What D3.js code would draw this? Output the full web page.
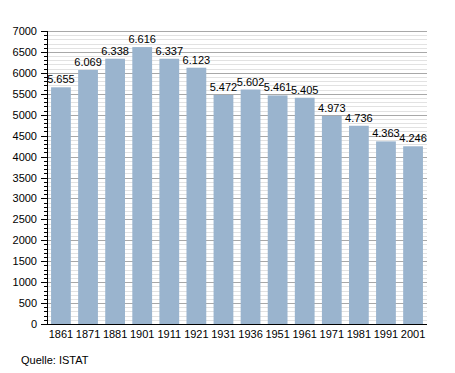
<!DOCTYPE html>
<html>
<head>
<meta charset="utf-8">
<script src="https://cdn.jsdelivr.net/npm/d3@7"></script>
<style>
  body { margin: 0; background: #fff; }
  svg { display: block; font-family: "Liberation Sans", Arial, sans-serif; }
</style>
</head>
<body>
<script>
"use strict";

// data
const years = ['1861', '1871', '1881', '1901', '1911', '1921', '1931', '1936', '1951', '1961', '1971', '1981', '1991', '2001'];
const population = [5655, 6069, 6338, 6616, 6337, 6123, 5472, 5602, 5461, 5405, 4973, 4736, 4363, 4246];
const yTicks = d3.range(0, 7001, 500);
const minorTicks = d3.range(0, 7001, 100);
const source = 'Quelle: ISTAT';

const width = 455, height = 373;
const margin = { left: 47, right: 28, top: 31, bottom: 49 };

const svg = d3.select('body').append('svg')
  .attr('width', width).attr('height', height);

const x = d3.scaleBand()
  .domain(years)
  .range([margin.left, width - margin.right])
  .paddingInner(0.27)
  .paddingOuter(0.15);

const y = d3.scaleLinear()
  .domain([0, 7000])
  .range([height - margin.bottom, margin.top]);

const py = d => Math.round(y(d)) + 0.5;

// grid lines
const grid = svg.append('g');
grid.selectAll('line.minor')
  .data(minorTicks.filter(d => d % 500 !== 0))
  .enter().append('line')
  .attr('x1', margin.left).attr('x2', width - margin.right)
  .attr('y1', py).attr('y2', py)
  .attr('stroke', '#e2e2e2');
grid.selectAll('line.major')
  .data(yTicks.filter(d => d > 0))
  .enter().append('line')
  .attr('x1', margin.left).attr('x2', width - margin.right)
  .attr('y1', py).attr('y2', py)
  .attr('stroke', '#a8a8a8');

// bars
svg.append('g').selectAll('rect')
  .data(population)
  .enter().append('rect')
  .attr('x', (d, i) => x(years[i]))
  .attr('width', x.bandwidth())
  .attr('y', d => y(d))
  .attr('height', d => y(0) - y(d))
  .attr('fill', '#9ab4ce');

// value labels
svg.append('g').selectAll('text')
  .data(population)
  .enter().append('text')
  .attr('x', (d, i) => x(years[i]) + x.bandwidth() / 2)
  .attr('y', d => y(d) - 4)
  .attr('text-anchor', 'middle')
  .attr('font-size', 11)
  .attr('fill', '#000')
  .text(d => d3.format(',')(d).replace(',', '.'));

// y axis
const yAxis = svg.append('g');
yAxis.selectAll('line.minor')
  .data(minorTicks)
  .enter().append('line')
  .attr('x1', margin.left - 3).attr('x2', margin.left)
  .attr('y1', py).attr('y2', py)
  .attr('stroke', '#000');
yAxis.selectAll('line.major')
  .data(yTicks)
  .enter().append('line')
  .attr('x1', margin.left - 6).attr('x2', margin.left)
  .attr('y1', py).attr('y2', py)
  .attr('stroke', '#000');
yAxis.selectAll('text')
  .data(yTicks)
  .enter().append('text')
  .attr('x', margin.left - 10)
  .attr('y', d => y(d) + 4)
  .attr('text-anchor', 'end')
  .attr('font-size', 11)
  .text(d => d);
yAxis.append('line')
  .attr('x1', margin.left + 0.5).attr('x2', margin.left + 0.5)
  .attr('y1', y(7000)).attr('y2', y(0) + 1)
  .attr('stroke', '#000');

// x axis
const xAxis = svg.append('g');
xAxis.append('line')
  .attr('x1', margin.left).attr('x2', width - margin.right)
  .attr('y1', py(0)).attr('y2', py(0))
  .attr('stroke', '#000');
xAxis.selectAll('text')
  .data(years)
  .enter().append('text')
  .attr('x', d => x(d) + x.bandwidth() / 2)
  .attr('y', y(0) + 14)
  .attr('text-anchor', 'middle')
  .attr('font-size', 11)
  .text(d => d);

// source
svg.append('text')
  .attr('x', 21).attr('y', 364)
  .attr('font-size', 11)
  .text(source);
</script>
</body>
</html>
